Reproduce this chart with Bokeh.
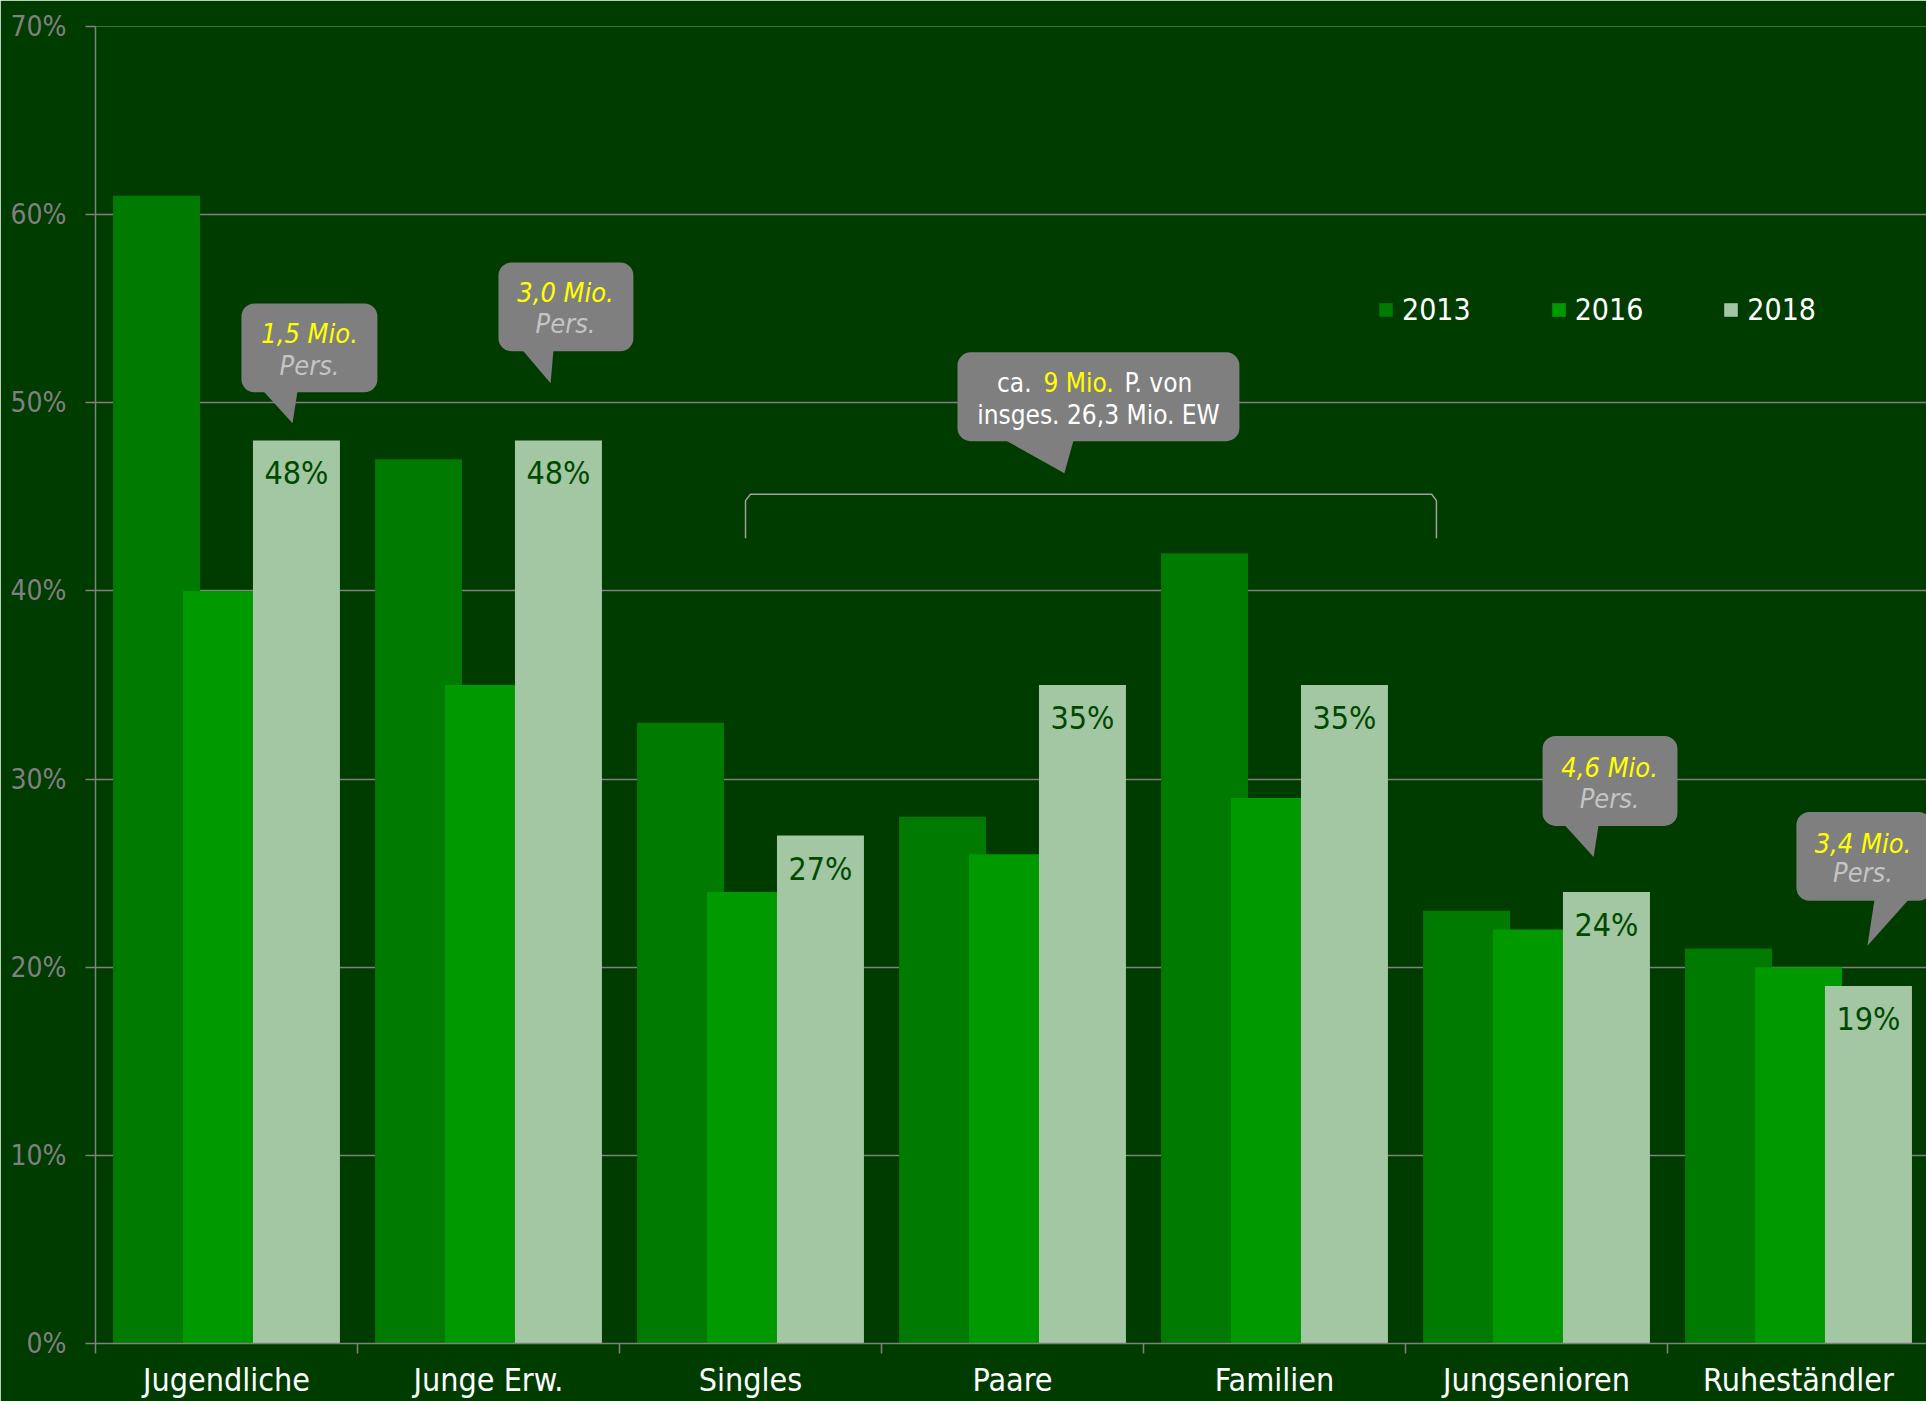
from bokeh.plotting import figure
from bokeh.models import (Range1d, FixedTicker, Legend, LegendItem, BoxAnnotation)
from bokeh.core.properties import value
from bokeh.embed import file_html
from bokeh.resources import INLINE

# ---------------- data ----------------
categories = ["Jugendliche", "Junge Erw.", "Singles", "Paare", "Familien", "Jungsenioren", "Ruheständler"]
years = ["2013", "2016", "2018"]
v2013 = [61, 47, 33, 28, 42, 23, 21]
v2016 = [40, 35, 24, 26, 29, 22, 20]
v2018 = [48, 48, 27, 35, 35, 24, 19]
y_ticks = [0, 10, 20, 30, 40, 50, 60, 70]
y_tick_labels = ["0%", "10%", "20%", "30%", "40%", "50%", "60%", "70%"]
bar_labels = [f"{v}%" for v in v2018]

# ---------------- style ----------------
FONT = "DejaVu Sans Condensed, DejaVu Sans"
BG = "#003B00"
GRID = "#808080"
C2013 = "#007A00"
C2016 = "#009A00"
C2018 = "#A3C6A3"
LABEL_DARK = "#004A00"
BUBBLE = "#7F7F7F"
YELLOW = "#FFFF00"
PERS = "#C4C4C4"

p = figure(width=1926, height=1401,
           x_range=Range1d(0, 6.9885), y_range=Range1d(0, 70),
           output_backend="svg", toolbar_location=None,
           min_border_left=95, min_border_top=26, min_border_bottom=57, min_border_right=0,
           background_fill_color=BG, border_fill_color=BG, outline_line_color=None)

# bars (drawn in order so later years overlap earlier ones)
offsets = [-0.267, 0.0, 0.267]
colors = [C2013, C2016, C2018]
renderers = []
for vals, off, col in zip([v2013, v2016, v2018], offsets, colors):
    xs = [i + 0.5 + off for i in range(len(categories))]
    r = p.vbar(x=xs, top=vals, bottom=0, width=0.332, fill_color=col, line_color=None)
    renderers.append(r)

# value labels on 2018 bars
p.text(x=[i + 0.5 + offsets[2] for i in range(len(categories))], y=v2018, text=bar_labels,
       text_align="center", text_baseline="middle", y_offset=33,
       text_color=LABEL_DARK, text_font_size="32px", text_font=value(FONT))

# axes
p.xgrid.visible = False
p.ygrid.ticker = FixedTicker(ticks=y_ticks)
p.ygrid.grid_line_color = GRID
p.ygrid.grid_line_width = 1.5

p.yaxis.ticker = FixedTicker(ticks=y_ticks)
p.yaxis.major_label_overrides = {t: lab for t, lab in zip(y_ticks, y_tick_labels)}
p.yaxis.axis_line_color = GRID
p.yaxis.axis_line_width = 1.5
p.yaxis.major_tick_line_color = GRID
p.yaxis.major_tick_line_width = 1.5
p.yaxis.major_tick_out = 10
p.yaxis.major_tick_in = 0
p.yaxis.minor_tick_line_color = None
p.yaxis.major_label_standoff = 19
p.yaxis.major_label_text_color = GRID
p.yaxis.major_label_text_font_size = "28px"
p.yaxis.major_label_text_font = FONT

centers = [i + 0.5 for i in range(len(categories))]
bounds = [i for i in range(len(categories) + 1)]
p.xaxis.ticker = FixedTicker(ticks=centers, minor_ticks=bounds)
p.xaxis.major_label_overrides = {c: lab for c, lab in zip(centers, categories)}
p.xaxis.axis_line_color = GRID
p.xaxis.axis_line_width = 1.5
p.xaxis.major_tick_line_color = None
p.xaxis.major_tick_out = 10
p.xaxis.major_tick_in = 0
p.xaxis.minor_tick_line_color = GRID
p.xaxis.minor_tick_line_width = 1.5
p.xaxis.minor_tick_out = 10
p.xaxis.minor_tick_in = 0
p.xaxis.major_label_standoff = 7
p.xaxis.major_label_text_color = "white"
p.xaxis.major_label_text_font_size = "32px"
p.xaxis.major_label_text_font = FONT

# legend
legend = Legend(items=[LegendItem(label=y, renderers=[r]) for y, r in zip(years, renderers)],
                orientation="horizontal", location=(1282, 1016),
                glyph_width=17, glyph_height=17, label_standoff=8, spacing=79,
                padding=0, margin=0, border_line_color=None, background_fill_alpha=0,
                label_text_color="white", label_text_font_size="30px", label_text_font=FONT,
                label_height=17)
p.add_layout(legend, "center")

# ---------------- callouts (annotation positions in data units) ----------------
# box = (left, right, bottom, top); ptr = (base x1, base x2, tip x, tip y)
callouts = [
    dict(box=(0.557, 1.076, 50.56, 55.28), ptr=(0.641, 0.771, 0.752, 48.91),
         tx=0.817, lines=[("1,5 Mio.", YELLOW, 53.69), ("Pers.", PERS, 51.99)]),
    dict(box=(1.538, 2.053, 52.74, 57.46), ptr=(1.630, 1.748, 1.737, 51.04),
         tx=1.794, lines=[("3,0 Mio.", YELLOW, 55.87), ("Pers.", PERS, 54.22)]),
    dict(box=(5.523, 6.038, 27.51, 32.29), ptr=(5.607, 5.737, 5.718, 25.86),
         tx=5.779, lines=[("4,6 Mio.", YELLOW, 30.64), ("Pers.", PERS, 28.99)]),
    dict(box=(6.492, 7.008, 23.53, 28.25), ptr=(6.790, 6.920, 6.763, 21.14),
         tx=6.746, lines=[("3,4 Mio.", YELLOW, 26.60), ("Pers.", PERS, 25.01)]),
]
big_box = (3.290, 4.366, 47.96, 52.68)
big_ptr = (3.473, 3.733, 3.698, 46.26)

ptr_xs, ptr_ys = [], []
for c in callouts + [dict(box=big_box, ptr=big_ptr)]:
    l, r_, b, t = c["box"]
    p.add_layout(BoxAnnotation(left=l, right=r_, bottom=b, top=t, fill_color=BUBBLE, fill_alpha=1,
                               line_color=None, border_radius=13, level="annotation"))
    x1, x2, tx_, ty_ = c["ptr"]
    ptr_xs.append([x1, x2, tx_])
    ptr_ys.append([b + 0.05, b + 0.05, ty_])
p.patches(xs=ptr_xs, ys=ptr_ys, fill_color=BUBBLE, line_color=None)

for c in callouts:
    for txt, col, yy in c["lines"]:
        p.text(x=[c["tx"]], y=[yy], text=[txt], text_align="center", text_baseline="middle",
               text_color=col, text_font_size="27px", text_font=value(FONT),
               text_font_style="italic", level="overlay")

# big callout text
p.text(x=[3.573], y=[51.04], text=["ca."], text_align="right", text_baseline="middle",
       text_color="white", text_font_size="26px", text_font=value(FONT), level="overlay")
p.text(x=[3.752], y=[51.04], text=["9 Mio."], text_align="center", text_baseline="middle",
       text_color=YELLOW, text_font_size="26px", text_font=value(FONT), level="overlay")
p.text(x=[3.927], y=[51.04], text=["P. von"], text_align="left", text_baseline="middle",
       text_color="white", text_font_size="26px", text_font=value(FONT), level="overlay")
p.text(x=[3.828], y=[49.34], text=["insges. 26,3 Mio. EW"], text_align="center", text_baseline="middle",
       text_color="white", text_font_size="26px", text_font=value(FONT), level="overlay")

# bracket over Singles..Familien
p.line(x=[2.481, 2.481, 2.50, 5.10, 5.118, 5.118], y=[42.80, 44.8, 45.14, 45.14, 44.8, 42.80],
       line_color="#A0A0A0", line_width=1.5)

open("out.html", "w").write(file_html(p, INLINE))
